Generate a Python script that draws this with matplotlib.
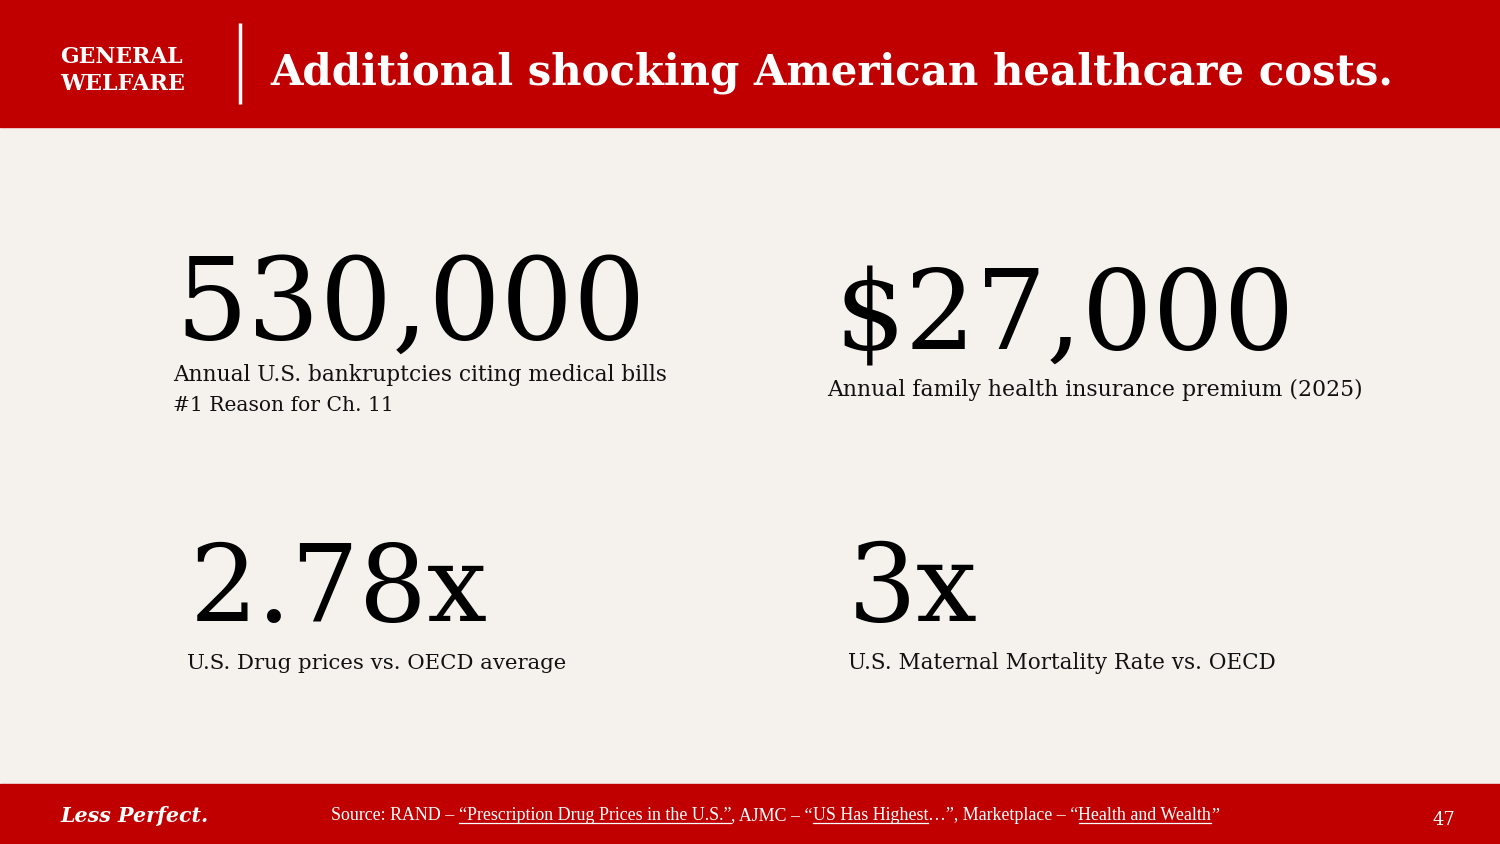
import matplotlib
matplotlib.use("Agg")
import matplotlib.pyplot as plt
from matplotlib.patches import Rectangle

# Contenido de la diapositiva
SECTION = ["GENERAL", "WELFARE"]
TITLE = "Additional shocking American healthcare costs."
STATS = ["530,000", "$27,000", "2.78x", "3x"]
CAPTIONS = [
    ["Annual U.S. bankruptcies citing medical bills", "#1 Reason for Ch. 11"],
    ["Annual family health insurance premium (2025)"],
    ["U.S. Drug prices vs. OECD average"],
    ["U.S. Maternal Mortality Rate vs. OECD"],
]
FOOTER_BRAND = "Less Perfect."
# (texto, subrayado)
SOURCE_PARTS = [
    ("Source: RAND \u2013 ", False),
    ("\u201cPrescription Drug Prices in the U.S.\u201d", True),
    (", AJMC \u2013 \u201c", False),
    ("US Has Highest", True),
    ("\u2026\u201d, Marketplace \u2013 \u201c", False),
    ("Health and Wealth", True),
    ("\u201d", False),
]
PAGE = "47"

RED = "#C00000"
BG = "#F5F2EE"
SERIF = "DejaVu Serif"

W, H = 1500, 844
fig = plt.figure(figsize=(15, 8.44), dpi=100)
fig.patch.set_facecolor(BG)
ax = fig.add_axes([0, 0, 1, 1])
ax.set_xlim(0, W)
ax.set_ylim(H, 0)
ax.axis("off")

ax.add_patch(Rectangle((0, 0), W, 127, color=RED, zorder=0))
ax.add_patch(Rectangle((0, 784), W, H - 784, color=RED, zorder=0))

fig.canvas.draw()
renderer = fig.canvas.get_renderer()


def fit_text(x, y, s, width, **kw):
    # Ajusta el tamaño de letra para que el texto ocupe el ancho dado
    t = ax.text(x, y, s, va="baseline", ha="left", **kw)
    size = kw.get("fontsize", 20)
    for _ in range(3):
        w = t.get_window_extent(renderer).width
        size = size * width / w
        t.set_fontsize(size)
    return t


# Cabecera
fit_text(60, 63, SECTION[0], 122, color="white", fontweight="bold", family=SERIF, fontsize=16)
fit_text(60, 90, SECTION[1], 125, color="white", fontweight="bold", family=SERIF, fontsize=16)
ax.plot([240, 240], [23, 104], color="white", lw=2.5, solid_capstyle="butt")
fit_text(270, 84, TITLE, 1123, color="white", fontweight="bold", family=SERIF, fontsize=36)

# Cifras principales
stat_pos = [(175, 339, 470), (835, 350, 460), (190, 621, 298), (848, 621, 130)]
cap_pos = [(173, 381, [495, 221]), (827, 396, [534]), (187, 669, [381]), (848, 669, [428])]
for s, (x, y, w) in zip(STATS, stat_pos):
    fit_text(x, y, s, w, color="black", family=SERIF, fontsize=80)
for lines, (x, y, widths) in zip(CAPTIONS, cap_pos):
    for i, (ln, w) in enumerate(zip(lines, widths)):
        fit_text(x, y + 30 * i, ln, w, color="#111111", family=SERIF, fontsize=18)

# Pie de página
fit_text(60, 822, FOOTER_BRAND, 148, color="white", fontweight="bold",
         fontstyle="italic", family=SERIF, fontsize=16)
ax.text(1455, 825, PAGE, va="baseline", ha="right", color="white",
        family=SERIF, fontsize=13)

# Fuente con subrayados, pieza a pieza
full = "".join(p for p, _ in SOURCE_PARTS)
probe = fit_text(0, -100, full, 888, family="Liberation Serif", fontsize=12)
fs_src = probe.get_fontsize()
probe.remove()
x = 331
inv = ax.transData.inverted()
for part, under in SOURCE_PARTS:
    t = ax.text(x, 820, part, va="baseline", ha="left", color="white",
                family="Liberation Serif", fontsize=fs_src)
    bb = t.get_window_extent(renderer)
    x0 = inv.transform((bb.x0, bb.y0))[0]
    x1 = inv.transform((bb.x1, bb.y0))[0]
    if under:
        ax.plot([x0, x1], [823, 823], color="white", lw=0.9)
    x = x1

fig.savefig("out.png", dpi=100, facecolor=BG)
